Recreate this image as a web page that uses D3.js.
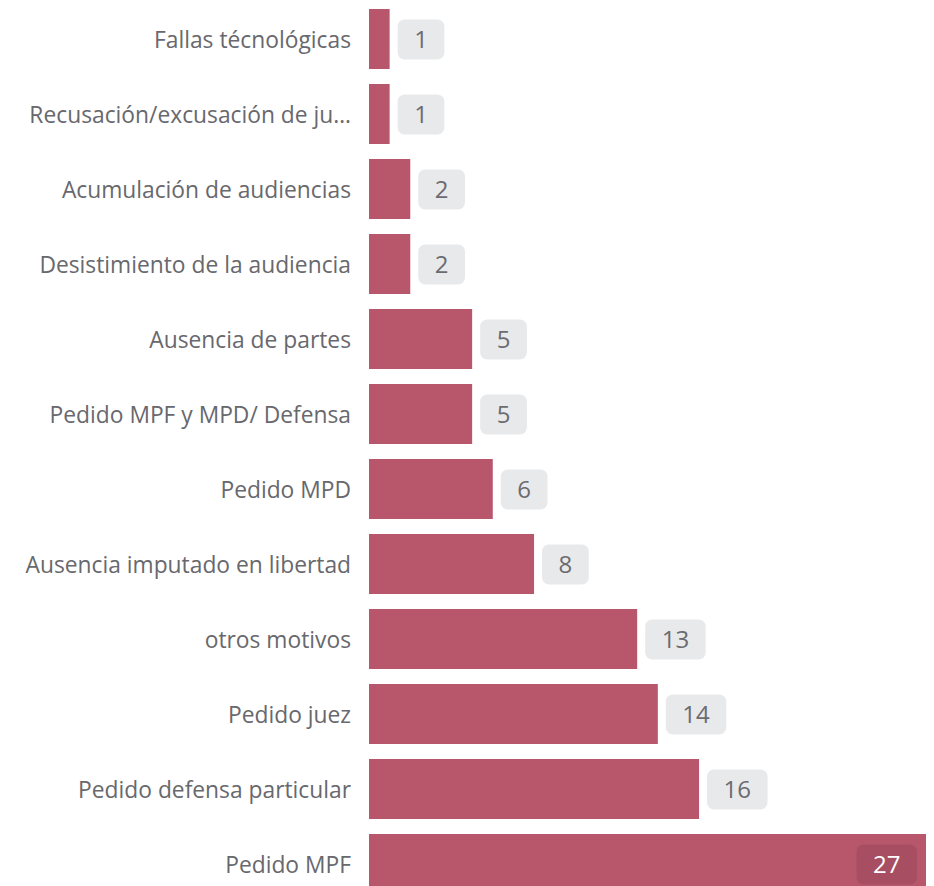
<!DOCTYPE html>
<html><head><meta charset="utf-8">
<script src="https://cdn.jsdelivr.net/npm/d3@7"></script>
<style>html,body{margin:0;padding:0;background:#fff;overflow:hidden}</style>
</head><body>
<svg id="chart" width="934" height="886"></svg>
<script>
const categories = ["Fallas técnológicas","Recusación/excusación de ju…","Acumulación de audiencias","Desistimiento de la audiencia","Ausencia de partes","Pedido MPF y MPD/ Defensa","Pedido MPD","Ausencia imputado en libertad","otros motivos","Pedido juez","Pedido defensa particular","Pedido MPF"];
const values = [1,1,2,2,5,5,6,8,13,14,16,27];

const data = categories.map((c,i)=>({c, v: values[i]}));
const svg = d3.select("#chart");
const font = "'Open Sans', sans-serif";
const x0 = 369;
const x = d3.scaleLinear().domain([0,27]).range([x0, 926]);
const y = d3.scaleBand().domain(categories).range([1.5, 901.5]).paddingInner(0.2).paddingOuter(0.1);

const g = svg.append("g");
g.selectAll("rect.bar").data(data).join("rect").attr("class","bar")
  .attr("x", x(0)).attr("y", d=>y(d.c)).attr("width", d=>x(d.v)-x(0)).attr("height", y.bandwidth())
  .attr("fill","#b8566c");

g.selectAll("text.cat").data(data).join("text").attr("class","cat")
  .attr("x", 351).attr("y", d=>y(d.c)+y.bandwidth()/2+1).attr("dy","0.35em")
  .attr("text-anchor","end").attr("font-family",font).attr("font-size",22.8).attr("fill","#68686d")
  .text(d=>d.c);

const lab = g.selectAll("g.lab").data(data).join("g").attr("class","lab");
lab.each(function(d){
  const el = d3.select(this);
  const inside = d.v === d3.max(values);
  const t = el.append("text").attr("font-family",font).attr("font-size",24)
    .attr("fill", inside ? "#fff" : "#6b6b70").attr("text-anchor","middle").attr("dy","0.35em").text(d.v);
  const w = t.node().getComputedTextLength();
  const bw = w + 33, bh = 40;
  const cy = y(d.c) + y.bandwidth()/2;
  const bx = inside ? x(d.v) - 9 - bw : x(d.v) + 8;
  el.insert("rect","text").attr("x",bx).attr("y",cy-bh/2+0.5).attr("width",bw).attr("height",bh).attr("rx",7)
    .attr("fill", inside ? "rgba(0,0,0,0.09)" : "#e8e9eb");
  t.attr("x", bx + bw/2).attr("y", cy+0.5);
});
</script>
</body></html>
